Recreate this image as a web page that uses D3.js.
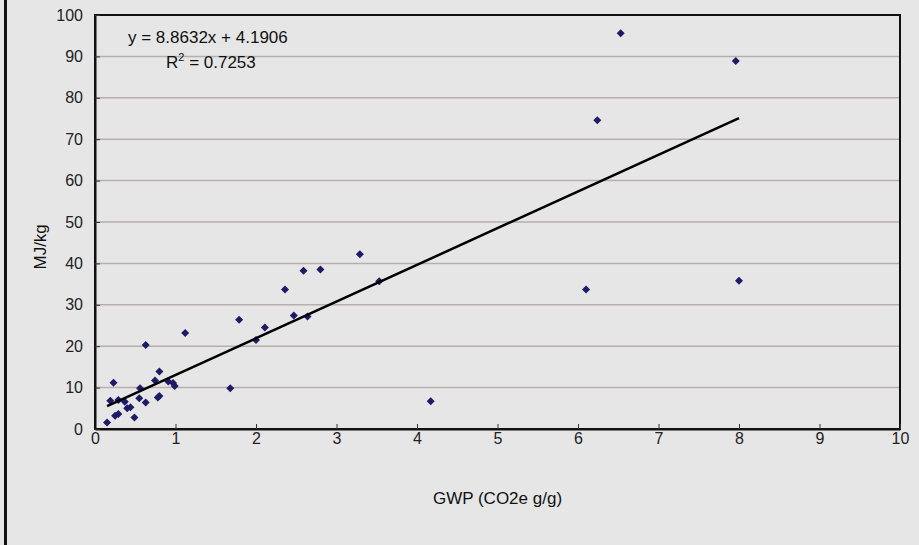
<!DOCTYPE html>
<html>
<head>
<meta charset="utf-8">
<script src="https://cdn.jsdelivr.net/npm/d3@7"></script>
<style>
  body { margin: 0; background: #e6e6e7; }
  svg { display: block; font-family: "Liberation Sans", Arial, sans-serif; }
</style>
</head>
<body>
<svg width="919" height="545"></svg>
<script>
const svg = d3.select('svg');

const width = +svg.attr('width');
const height = +svg.attr('height');

// GWP (CO2e g/g)
const gwp = [0.15, 0.19, 0.23, 0.25, 0.29, 0.29, 0.37, 0.40, 0.44, 0.49,
  0.55, 0.56, 0.63, 0.63, 0.745, 0.78, 0.80, 0.80, 0.91, 0.97, 0.99,
  1.12, 1.68, 1.79, 2.0, 2.11, 2.36, 2.47, 2.59, 2.64, 2.80, 3.29, 3.53,
  4.17, 6.10, 6.24, 6.53, 7.96, 8.0];
// MJ/kg
const mj = [1.6, 6.8, 11.2, 3.2, 3.6, 7.0, 6.6, 5.0, 5.25, 2.8,
  7.4, 9.85, 6.4, 20.3, 11.7, 7.6, 8.0, 13.9, 11.5, 11.1, 10.4,
  23.2, 9.85, 26.4, 21.5, 24.5, 33.7, 27.4, 38.2, 27.2, 38.5, 42.2, 35.7,
  6.7, 33.7, 74.6, 95.6, 88.9, 35.8];

const xTicks = [0, 1, 2, 3, 4, 5, 6, 7, 8, 9, 10];
const yTicks = [0, 10, 20, 30, 40, 50, 60, 70, 80, 90, 100];

const slope = 8.8632;
const intercept = 4.1906;
const rSquared = '0.7253';

const points = gwp.map((x, i) => ({ x, y: mj[i] }));

const margin = { left: 95, right: 19, top: 15, bottom: 116 };

const x = d3.scaleLinear().domain([0, 10]).range([margin.left, width - margin.right]);
const y = d3.scaleLinear().domain([0, 100]).range([height - margin.bottom, margin.top]);

// left border of the figure
svg.append('line')
  .attr('x1', 5.5).attr('x2', 5.5)
  .attr('y1', 0).attr('y2', height)
  .attr('stroke', '#111').attr('stroke-width', 3);

// gridlines
svg.append('g')
  .selectAll('line')
  .data(yTicks.filter(d => d > 0 && d < 100))
  .enter().append('line')
    .attr('x1', x(0)).attr('x2', x(10))
    .attr('y1', d => y(d)).attr('y2', d => y(d))
    .attr('stroke', '#b9aeab').attr('stroke-width', 1.5);

// plot frame
svg.append('rect')
  .attr('x', x(0)).attr('y', y(100))
  .attr('width', x(10) - x(0)).attr('height', y(0) - y(100))
  .attr('fill', 'none').attr('stroke', '#111').attr('stroke-width', 2);

const xAxis = svg.append('g')
  .attr('transform', `translate(0,${y(0)})`)
  .call(d3.axisBottom(x).tickValues(xTicks).tickSizeInner(-5).tickSizeOuter(0).tickPadding(4));
xAxis.select('.domain').attr('stroke', '#111').attr('stroke-width', 2);
xAxis.selectAll('.tick line').attr('stroke', '#333');
xAxis.selectAll('text').attr('font-size', 16).attr('fill', '#222');

const yAxis = svg.append('g')
  .attr('transform', `translate(${x(0)},0)`)
  .call(d3.axisLeft(y).tickValues(yTicks).tickSizeInner(-5).tickSizeOuter(0).tickPadding(12));
yAxis.select('.domain').attr('stroke', '#111').attr('stroke-width', 2);
yAxis.selectAll('.tick line').attr('stroke', '#333');
yAxis.selectAll('text').attr('font-size', 16).attr('fill', '#222');

// points
const diamond = d3.symbol().type(d3.symbolSquare).size(32);
svg.append('g')
  .selectAll('path')
  .data(points)
  .enter().append('path')
    .attr('d', diamond)
    .attr('transform', d => `translate(${x(d.x)},${y(d.y)}) rotate(45)`)
    .attr('fill', '#1d1a66');

// trend line
const xExtent = d3.extent(gwp);
svg.append('line')
  .attr('x1', x(xExtent[0])).attr('y1', y(slope * xExtent[0] + intercept))
  .attr('x2', x(xExtent[1])).attr('y2', y(slope * xExtent[1] + intercept))
  .attr('stroke', '#000').attr('stroke-width', 2.5);

// equation
svg.append('text')
  .attr('x', 128).attr('y', 43)
  .attr('font-size', 17).attr('fill', '#111')
  .text(`y = ${slope}x + ${intercept}`);

const r2 = svg.append('text')
  .attr('x', 166).attr('y', 68)
  .attr('font-size', 17).attr('fill', '#111');
r2.append('tspan').text('R');
r2.append('tspan').attr('font-size', 11).attr('dy', -7).text('2');
r2.append('tspan').attr('dy', 7).text(` = ${rSquared}`);

// axis titles
svg.append('text')
  .attr('x', x(5)).attr('y', 504)
  .attr('text-anchor', 'middle')
  .attr('font-size', 17).attr('fill', '#111')
  .text('GWP (CO2e g/g)');

svg.append('text')
  .attr('transform', `translate(46,${y(44)}) rotate(-90)`)
  .attr('text-anchor', 'middle')
  .attr('font-size', 17).attr('fill', '#111')
  .text('MJ/kg');
</script>
</body>
</html>
